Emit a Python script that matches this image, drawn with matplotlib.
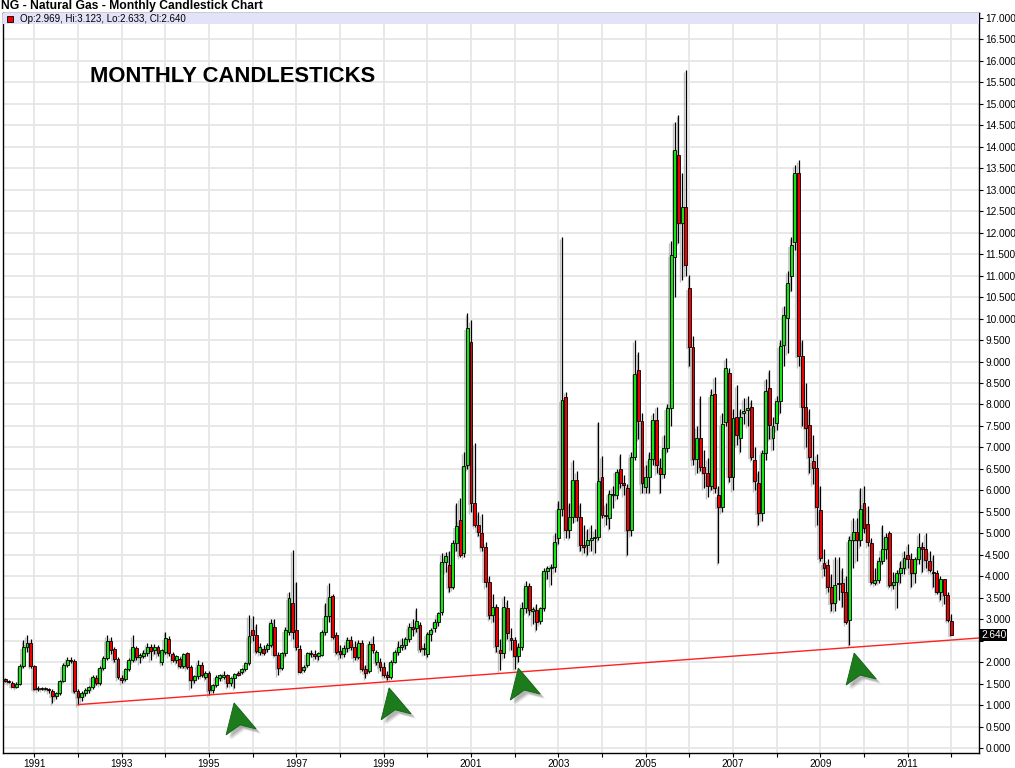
import numpy as np
import pandas as pd
import matplotlib
matplotlib.use('Agg')
import matplotlib.pyplot as plt
from matplotlib.patches import Polygon, Rectangle

plt.rcParams['font.family'] = ['Liberation Sans', 'DejaVu Sans']

# Monthly OHLC, Apr 1990 .. Jan 2012 (one line per year)
opens = [
    1.58, 1.61, 1.58, 1.53, 1.43, 1.51, 1.92, 2.35, 2.45,
    1.92, 1.38, 1.40, 1.38, 1.39, 1.34, 1.22, 1.28, 1.57, 1.94, 2.06, 2.04,
    1.34, 1.19, 1.28, 1.36, 1.42, 1.64, 1.52, 1.88, 2.10, 2.50, 2.31, 2.08,
    1.65, 1.61, 1.84, 2.06, 2.33, 2.12, 2.16, 2.21, 2.35, 2.28, 2.35, 2.00,
    2.25, 2.55, 2.19, 2.06, 2.08, 1.92, 2.21, 1.90, 1.59, 1.69, 1.93, 1.67,
    1.75, 1.36, 1.48, 1.64, 1.67, 1.70, 1.53, 1.63, 1.76, 1.78, 1.84, 1.98,
    2.76, 2.64, 2.25, 2.32, 2.31, 2.40, 2.82, 2.18, 1.87, 2.21, 2.72, 3.38,
    2.76, 2.31, 1.83, 1.94, 2.20, 2.19, 2.14, 2.18, 2.72, 3.07, 3.55, 2.64,
    2.26, 2.20, 2.33, 2.52, 2.37, 2.12, 2.46, 1.86, 1.80, 2.44, 2.00, 2.02,
    1.90, 1.71, 1.67, 2.02, 2.25, 2.37, 2.40, 2.54, 2.82, 2.80, 2.87, 2.31,
    2.19, 2.66, 2.80, 2.95, 3.18, 4.34, 4.27, 3.76, 4.77, 5.31, 4.54, 6.59,
    9.46, 5.70, 5.20, 5.00, 4.69, 3.88, 3.10, 3.28, 2.30, 2.23, 3.26, 2.56,
    2.52, 2.14, 2.37, 3.26, 3.78, 3.20, 3.22, 2.97, 3.26, 4.13, 4.19, 4.23,
    4.90, 5.58, 8.18, 5.08, 5.39, 6.25, 5.39, 4.73, 4.73, 4.85, 4.90, 4.93,
    6.32, 5.43, 5.35, 5.90, 5.90, 6.50, 6.17, 6.05, 5.08, 6.79, 8.80, 7.62,
    6.09, 6.32, 6.73, 7.65, 6.52, 6.39, 6.98, 7.91, 11.44, 13.80, 12.21, 12.60,
    10.70, 9.34, 6.73, 7.21, 6.55, 6.40, 6.11, 8.24, 5.89, 5.62, 7.60, 8.73,
    6.32, 7.72, 7.21, 7.80, 7.87, 7.95, 6.72, 6.18, 5.47, 6.87, 8.38, 7.21,
    7.58, 8.07, 9.38, 10.02, 11.00, 11.79, 13.38, 9.13, 7.95, 7.52, 6.69, 6.52,
    5.54, 4.31, 4.27, 3.76, 3.38, 3.85, 3.84, 3.65, 2.99, 4.85, 5.03, 4.85,
    5.70, 5.23, 4.77, 3.86, 3.92, 4.35, 4.63, 5.00, 3.80, 3.88, 4.07, 4.19,
    4.50, 4.40, 4.07, 4.40, 4.69, 4.63, 4.37, 4.11, 4.07, 3.65, 3.94, 3.57,
    2.969,
]
highs = [
    1.64, 1.63, 1.60, 1.56, 1.54, 1.96, 2.52, 2.64, 2.55,
    1.95, 1.45, 1.43, 1.42, 1.41, 1.38, 1.32, 1.60, 1.98, 2.12, 2.12, 2.08,
    1.38, 1.33, 1.40, 1.46, 1.72, 1.70, 1.92, 2.15, 2.64, 2.60, 2.36, 2.12,
    1.70, 1.88, 2.10, 2.64, 2.38, 2.22, 2.28, 2.45, 2.42, 2.42, 2.40, 2.32,
    2.72, 2.62, 2.25, 2.18, 2.12, 2.22, 2.25, 1.94, 1.72, 2.06, 2.00, 1.80,
    1.80, 1.50, 1.70, 1.74, 1.80, 1.73, 1.67, 1.76, 1.80, 1.88, 2.02, 3.10,
    3.07, 2.90, 2.45, 2.40, 2.45, 3.00, 3.02, 2.25, 2.25, 2.82, 3.65, 4.62,
    3.88, 2.40, 1.95, 2.25, 2.30, 2.28, 2.25, 2.76, 3.38, 3.84, 3.60, 2.70,
    2.40, 2.40, 2.60, 2.62, 2.50, 2.52, 2.52, 1.95, 2.50, 2.62, 2.30, 2.10,
    2.00, 1.80, 2.06, 2.30, 2.50, 2.58, 2.60, 2.92, 3.00, 3.26, 2.95, 2.45,
    2.70, 2.80, 3.00, 3.18, 4.54, 4.58, 4.60, 4.85, 5.70, 5.82, 6.90, 10.12,
    9.96, 7.10, 5.50, 5.45, 4.80, 4.00, 3.60, 3.35, 2.55, 3.55, 3.45, 2.80,
    2.60, 2.45, 3.40, 3.90, 3.85, 3.30, 3.35, 3.30, 4.20, 4.25, 4.30, 5.00,
    5.75, 11.90, 8.30, 5.70, 6.71, 6.45, 5.70, 5.20, 5.10, 5.20, 5.10, 7.60,
    6.80, 5.70, 6.00, 6.10, 6.50, 6.85, 6.35, 6.15, 6.90, 9.50, 9.22, 7.80,
    6.60, 6.90, 7.80, 7.95, 6.75, 7.30, 8.00, 11.80, 14.58, 14.73, 13.38, 15.78,
    11.01, 9.60, 7.50, 8.20, 6.95, 6.75, 8.35, 8.65, 6.10, 7.80, 9.07, 8.85,
    7.90, 8.45, 7.90, 8.15, 8.20, 8.10, 7.00, 6.45, 6.95, 8.60, 8.80, 7.70,
    8.20, 9.50, 10.30, 11.10, 11.90, 13.57, 13.69, 9.50, 8.50, 7.90, 7.30, 6.85,
    6.10, 4.65, 4.40, 4.05, 4.45, 4.45, 4.20, 4.00, 4.95, 5.35, 5.35, 6.05,
    6.10, 5.65, 4.90, 4.20, 4.45, 5.20, 5.00, 5.05, 4.10, 4.15, 4.35, 4.60,
    4.75, 4.55, 4.45, 5.00, 4.80, 5.00, 4.60, 4.50, 4.15, 4.00, 3.95, 3.65,
    3.123,
]
lows = [
    1.55, 1.55, 1.52, 1.42, 1.40, 1.48, 1.88, 2.25, 1.88,
    1.35, 1.34, 1.35, 1.35, 1.30, 1.06, 1.15, 1.25, 1.55, 1.90, 1.98, 1.30,
    1.00, 1.10, 1.22, 1.30, 1.38, 1.48, 1.48, 1.82, 2.05, 2.20, 2.02, 1.62,
    1.52, 1.56, 1.80, 2.00, 2.05, 1.98, 2.10, 2.15, 2.06, 2.20, 2.15, 1.95,
    2.20, 2.15, 2.00, 1.98, 1.88, 1.88, 1.85, 1.40, 1.52, 1.62, 1.66, 1.62,
    1.24, 1.30, 1.44, 1.58, 1.62, 1.42, 1.45, 1.40, 1.68, 1.74, 1.80, 1.95,
    2.50, 2.22, 2.18, 2.18, 2.25, 2.35, 2.15, 1.71, 1.82, 2.15, 2.65, 2.55,
    2.30, 1.75, 1.78, 1.90, 2.12, 2.08, 2.05, 2.15, 2.65, 2.95, 2.55, 2.20,
    2.10, 2.12, 2.25, 2.30, 2.05, 2.08, 1.80, 1.63, 1.76, 2.22, 1.95, 1.80,
    1.66, 1.60, 1.62, 1.98, 2.18, 2.30, 2.32, 2.48, 2.62, 2.70, 2.25, 2.18,
    2.12, 2.50, 2.72, 2.85, 3.10, 4.10, 3.65, 3.70, 4.60, 4.45, 4.45, 6.50,
    5.50, 5.15, 4.95, 4.60, 3.75, 3.00, 2.95, 2.25, 1.83, 2.10, 2.55, 2.30,
    1.86, 2.00, 2.30, 3.15, 3.10, 2.90, 2.75, 2.90, 3.20, 3.95, 3.80, 4.10,
    4.75, 5.40, 4.90, 4.90, 5.25, 5.30, 4.60, 4.55, 4.50, 4.60, 4.55, 4.85,
    5.35, 5.20, 5.10, 5.60, 5.80, 6.05, 5.90, 4.50, 4.95, 6.70, 7.20, 5.95,
    5.95, 5.95, 6.60, 6.40, 5.95, 6.30, 6.90, 7.50, 10.50, 11.75, 10.90, 11.00,
    8.90, 6.60, 6.40, 6.45, 6.05, 5.85, 6.00, 5.95, 4.31, 5.50, 7.50, 6.20,
    6.00, 7.05, 6.90, 7.55, 7.50, 6.70, 6.00, 5.20, 5.30, 6.70, 7.20, 6.95,
    7.40, 7.80, 8.90, 9.20, 10.65, 11.60, 8.90, 7.50, 7.00, 6.40, 6.15, 5.20,
    4.35, 4.00, 3.63, 3.20, 3.20, 3.45, 3.30, 2.90, 2.41, 4.20, 4.35, 4.70,
    5.00, 4.70, 3.82, 3.80, 3.85, 4.30, 4.40, 3.75, 3.70, 3.26, 3.85, 4.05,
    4.20, 3.75, 3.85, 4.30, 4.10, 4.20, 4.10, 3.75, 3.60, 3.45, 3.35, 2.95,
    2.633,
]
closes = [
    1.61, 1.58, 1.55, 1.44, 1.51, 1.92, 2.35, 2.45, 1.92,
    1.38, 1.40, 1.38, 1.39, 1.35, 1.22, 1.29, 1.57, 1.94, 2.06, 2.04, 1.34,
    1.19, 1.28, 1.36, 1.42, 1.67, 1.52, 1.88, 2.10, 2.51, 2.29, 2.08, 1.67,
    1.60, 1.84, 2.06, 2.35, 2.12, 2.17, 2.21, 2.35, 2.27, 2.35, 2.21, 2.29,
    2.56, 2.21, 2.06, 2.14, 1.92, 2.19, 1.89, 1.59, 1.69, 1.94, 1.71, 1.75,
    1.36, 1.48, 1.67, 1.70, 1.72, 1.53, 1.63, 1.73, 1.72, 1.84, 1.98, 2.62,
    2.64, 2.27, 2.35, 2.23, 2.40, 2.91, 2.18, 1.87, 2.21, 2.76, 3.49, 2.72,
    2.37, 1.79, 1.90, 2.21, 2.23, 2.14, 2.21, 2.72, 3.07, 3.53, 2.60, 2.25,
    2.20, 2.33, 2.52, 2.37, 2.12, 2.46, 1.86, 1.75, 2.44, 2.29, 2.25, 1.90,
    1.71, 1.66, 2.02, 2.25, 2.37, 2.41, 2.54, 2.82, 2.77, 2.97, 2.31, 2.33,
    2.66, 2.76, 2.95, 3.14, 4.34, 4.47, 3.76, 4.77, 5.17, 4.50, 6.58, 9.77,
    5.70, 5.20, 5.04, 4.69, 3.88, 3.10, 3.28, 2.38, 2.23, 3.30, 2.69, 2.52,
    2.14, 2.37, 3.26, 3.78, 3.22, 3.25, 2.95, 3.26, 4.13, 4.19, 4.23, 4.81,
    5.58, 8.10, 5.08, 5.39, 6.25, 5.39, 4.73, 4.69, 4.85, 4.90, 4.93, 6.21,
    5.43, 5.40, 5.93, 5.93, 6.44, 6.17, 6.13, 5.08, 6.79, 8.72, 7.62, 6.17,
    6.32, 6.73, 7.65, 6.59, 6.39, 6.98, 7.91, 11.48, 13.93, 12.21, 12.60, 11.24,
    9.34, 6.73, 7.21, 6.55, 6.40, 6.11, 8.22, 6.05, 5.62, 7.55, 8.84, 6.32,
    7.68, 7.29, 7.72, 7.86, 7.93, 6.77, 6.21, 5.47, 6.87, 8.32, 7.52, 7.49,
    8.07, 9.36, 10.08, 10.83, 11.71, 13.38, 9.13, 7.95, 7.45, 6.77, 6.52, 5.62,
    4.42, 4.19, 3.76, 3.38, 3.80, 3.82, 3.65, 2.95, 4.85, 5.03, 4.85, 5.57,
    5.12, 4.81, 3.88, 3.93, 4.35, 4.63, 4.93, 3.80, 3.88, 4.07, 4.19, 4.42,
    4.40, 4.07, 4.40, 4.69, 4.63, 4.38, 4.15, 4.07, 3.65, 3.94, 3.57, 2.99,
    2.640,
]

# support line from the Jan 1992 low (month index, price)
trend_x = [12, 259.6]
trend_y = [1.02, 2.57]

# green arrow tips (month index, price)
arrow_x = [54.9, 97.5, 133.0, 225.3]
arrow_y = [1.06, 1.41, 1.87, 2.22]

months = pd.date_range('1990-04-01', periods=len(closes), freq='MS')
x = np.array((months.year - 1991) * 12 + months.month - 1, dtype=float)
o = np.array(opens)
h = np.array(highs)
l = np.array(lows)
c = np.array(closes)
up = c >= o

fig = plt.figure(figsize=(10.15, 7.68), dpi=100)
ax = fig.add_axes([3 / 1015, 15 / 768, 976 / 1015, 740 / 768])
ax.set_xlim(-8.6, 259.6)
ax.set_ylim(-0.105, 17.105)

# px per unit, used for the arrow shapes
px_x = 976 / (259.6 + 8.6)
px_y = 740 / 17.21

# grid; the 2.500 label sits under the last price tag, so it is left blank
ax.set_yticks(np.arange(0, 17.01, 0.5))
ax.yaxis.set_major_formatter(plt.FuncFormatter(
    lambda v, pos: '' if abs(v - 2.5) < 1e-6 else '%.3f' % v))
ax.yaxis.tick_right()
year_ticks = np.arange(0, 253, 12)
ax.set_xticks(year_ticks)
ax.set_xticklabels([str(1991 + k) if k % 2 == 0 else '' for k in range(len(year_ticks))])
ax.tick_params(axis='y', labelsize=7.3, length=3, pad=1.5, width=0.8)
ax.tick_params(axis='x', labelsize=7.2, length=3, pad=1.5, width=0.8)
ax.grid(True, color='#e6e6e6', lw=1.3)
ax.set_axisbelow(True)
for s in ax.spines.values():
    s.set_linewidth(1.0)
    s.set_color('black')

# candle shadows
ax.vlines(x - 0.45, l - 0.04, h - 0.04, color='#9a9a9a', lw=1.0, alpha=0.6, zorder=1)
ax.bar(x - 0.45, np.maximum(np.abs(c - o), 0.025), bottom=np.minimum(o, c) - 0.04,
       width=0.78, color='#a0a0a0', alpha=0.5, zorder=1)

# candles
ax.vlines(x, l, h, color='black', lw=0.9, zorder=2)
ax.bar(x, np.maximum(np.abs(c - o), 0.025), bottom=np.minimum(o, c), width=0.8,
       color=np.where(up, '#11e611', '#ee0000'), edgecolor='black', linewidth=0.6, zorder=3)

# support line
ax.plot(trend_x, trend_y, color='#ff2020', lw=1.0, zorder=4)

# arrows
shape = [(0, 0), (-8, 32), (6, 22), (22, 26)]
for ax_, ay_ in zip(arrow_x, arrow_y):
    for sx, sy, a in [(5, 5, 0.12), (4, 4, 0.18), (3, 3, 0.22)]:
        pts = [(ax_ + (dx + sx) / px_x, ay_ - (dy + sy) / px_y) for dx, dy in shape]
        ax.add_patch(Polygon(pts, closed=True, facecolor='#555555', edgecolor='none',
                             alpha=a, zorder=5))
    pts = [(ax_ + dx / px_x, ay_ - dy / px_y) for dx, dy in shape]
    ax.add_patch(Polygon(pts, closed=True, facecolor='#1c7c1c', edgecolor='#146014',
                         lw=0.6, zorder=6))

# legend band
band = 11 / 740
ax.add_patch(Rectangle((0, 1 - band), 1, band, transform=ax.transAxes,
                       facecolor='#e2e2f8', edgecolor='none', zorder=7))
ax.add_patch(Rectangle((4 / 976, 1 - 9 / 740), 6 / 976, 6 / 740, transform=ax.transAxes,
                       facecolor='#ee0000', edgecolor='black', lw=0.6, zorder=8))
ax.text(17 / 976, 1 - 5.5 / 740, 'Op:2.969, Hi:3.123, Lo:2.633, Cl:2.640',
        transform=ax.transAxes, fontsize=7, va='center', ha='left', zorder=8)

ax.text(87 / 976, 1 - 64 / 740, 'MONTHLY CANDLESTICKS', transform=ax.transAxes,
        fontsize=15.8, fontweight='bold', va='center', ha='left', zorder=8)

# last price tag
ax.text(1 + 2 / 976, c[-1], '%.3f' % c[-1], transform=ax.get_yaxis_transform(),
        fontsize=7.3, color='white', va='center', ha='left', zorder=9, clip_on=False,
        bbox=dict(boxstyle='square,pad=0.12', facecolor='black', edgecolor='none'))

fig.text(1 / 1015, 1 - 6 / 768, 'NG - Natural Gas - Monthly Candlestick Chart',
         fontsize=8.7, fontweight='bold', va='center', ha='left')

fig.savefig('out.png', dpi=100)
